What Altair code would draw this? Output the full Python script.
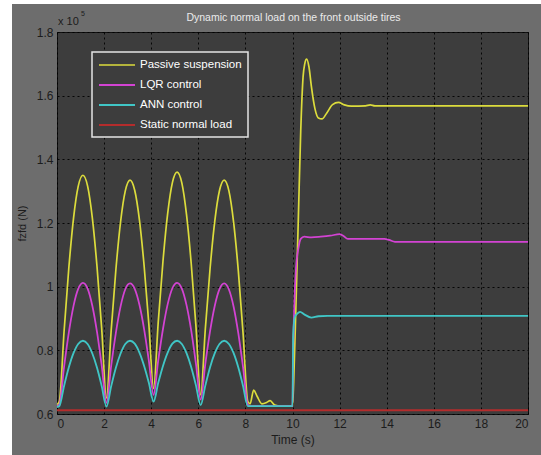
import altair as alt
import pandas as pd

# ---------------- data (values in units of 1e5 N) ----------------
t_arch = [0, 0.1, 0.3, 0.5, 0.7, 0.9, 1.1, 1.3, 1.5, 1.7, 1.9, 2.1,
          2.3, 2.5, 2.7, 2.9, 3.1, 3.3, 3.5, 3.7, 3.9, 4.1,
          4.3, 4.5, 4.7, 4.9, 5.1, 5.3, 5.5, 5.7, 5.9, 6.1,
          6.3, 6.5, 6.7, 6.9, 7.1, 7.3, 7.5, 7.7, 7.9, 8.1]

passive_arch = [0.63, 0.64, 0.859, 1.057, 1.214, 1.315, 1.35, 1.316, 1.216, 1.062, 0.866, 0.65,
                0.862, 1.053, 1.204, 1.301, 1.335, 1.303, 1.21, 1.065, 0.882, 0.68,
                0.89, 1.08, 1.23, 1.327, 1.36, 1.326, 1.226, 1.072, 0.876, 0.66,
                0.869, 1.057, 1.206, 1.302, 1.335, 1.301, 1.202, 1.049, 0.855, 0.64]
lqr_arch = [0.625, 0.63, 0.748, 0.855, 0.939, 0.993, 1.012, 0.994, 0.94, 0.857, 0.751, 0.635,
            0.751, 0.855, 0.938, 0.992, 1.01, 0.993, 0.943, 0.866, 0.768, 0.66,
            0.769, 0.867, 0.945, 0.995, 1.012, 0.994, 0.942, 0.862, 0.758, 0.645,
            0.758, 0.86, 0.94, 0.992, 1.01, 0.991, 0.937, 0.853, 0.747, 0.63]
ann_arch = [0.622, 0.625, 0.688, 0.746, 0.791, 0.82, 0.83, 0.82, 0.79, 0.745, 0.687, 0.623,
            0.687, 0.745, 0.79, 0.82, 0.83, 0.821, 0.793, 0.751, 0.698, 0.639,
            0.698, 0.751, 0.793, 0.821, 0.83, 0.82, 0.791, 0.747, 0.69, 0.628,
            0.69, 0.747, 0.791, 0.82, 0.83, 0.82, 0.791, 0.746, 0.688, 0.625]

passive_tail_t = [8.2, 8.35, 8.5, 8.7, 8.9, 9.05, 9.25, 9.5, 10.0, 10.05, 10.15, 10.25, 10.35,
                  10.45, 10.52, 10.6, 10.7, 10.8, 10.95, 11.1, 11.25, 11.45, 11.7, 11.95,
                  12.2, 12.5, 13.1, 13.3, 13.5, 20.0]
passive_tail_v = [0.632, 0.675, 0.655, 0.632, 0.636, 0.642, 0.628, 0.625, 0.625, 0.70, 0.95, 1.22, 1.49,
                  1.66, 1.70, 1.715, 1.69, 1.63, 1.56, 1.53, 1.527, 1.545, 1.572, 1.579,
                  1.571, 1.567, 1.568, 1.571, 1.568, 1.568]

lqr_tail_t = [8.2, 10.0, 10.03, 10.08, 10.15, 10.25, 10.35, 10.5, 10.8, 11.2, 11.6, 12.0,
              12.15, 12.35, 13.9, 14.1, 14.35, 20.0]
lqr_tail_v = [0.625, 0.625, 0.80, 0.95, 1.06, 1.12, 1.15, 1.157, 1.155, 1.157, 1.16, 1.165,
              1.16, 1.15, 1.15, 1.147, 1.141, 1.141]

ann_tail_t = [8.2, 10.0, 10.03, 10.1, 10.2, 10.32, 10.5, 10.8, 11.1, 11.5, 20.0]
ann_tail_v = [0.625, 0.625, 0.85, 0.905, 0.915, 0.921, 0.913, 0.903, 0.907, 0.908, 0.908]

static_t = [0, 20]
static_v = [0.612, 0.612]

series_names = ["Passive suspension", "LQR control", "ANN control", "Static normal load"]
series_colors = ["#dcdc3c", "#d343d3", "#40c6c6", "#b42c2c"]
series_widths = [1.7, 1.9, 1.9, 3.2]

x_ticks = [0, 2, 4, 6, 8, 10, 12, 14, 16, 18, 20]
y_ticks = [0.6, 0.8, 1.0, 1.2, 1.4, 1.6, 1.8]

title_text = "Dynamic normal load on the front outside tires"

# ---------------- table ----------------
rows = []
def add(name, ts, vs, order):
    for t, v in zip(ts, vs):
        rows.append({"t": t, "v": v, "series": name, "draw": order})

add("Static normal load", static_t, static_v, 0)
add("Passive suspension", t_arch + passive_tail_t, passive_arch + passive_tail_v, 1)
add("LQR control", t_arch + lqr_tail_t, lqr_arch + lqr_tail_v, 2)
add("ANN control", t_arch + ann_tail_t, ann_arch + ann_tail_v, 3)
df = pd.DataFrame(rows)

FONT = "Liberation Sans"
DARK = "#1c1c1c"
W, H = 471, 382

lines = alt.Chart(df).mark_line(interpolate="monotone", clip=True).encode(
    x=alt.X("t:Q", scale=alt.Scale(domain=[0, 20], nice=False, zero=False),
            axis=alt.Axis(values=x_ticks, title="Time (s)", grid=True, gridColor="#000000",
                          gridDash=[2, 3], gridOpacity=0.9, gridWidth=1, tickSize=0, domain=False,
                          labelPadding=4, labelFontSize=12, labelColor=DARK, labelFont=FONT,
                          titleFont=FONT, titleFontSize=12, titleFontWeight="normal",
                          titleColor=DARK, titlePadding=5)),
    y=alt.Y("v:Q", scale=alt.Scale(domain=[0.6, 1.8], nice=False, zero=False),
            axis=alt.Axis(values=y_ticks, format="~g", title="fzfd (N)", grid=True,
                          gridColor="#000000", gridDash=[2, 3], gridOpacity=0.9, gridWidth=1,
                          tickSize=0, domain=False, labelPadding=4, labelFontSize=12,
                          labelColor=DARK, labelFont=FONT, titleFont=FONT, titleFontSize=11,
                          titleFontWeight="normal", titleColor=DARK, titlePadding=9)),
    color=alt.Color("series:N", scale=alt.Scale(domain=series_names, range=series_colors),
                    legend=alt.Legend(title=None, orient="none", legendX=35, legendY=20,
                                      fillColor="#3d3d3d", strokeColor="#e4e4e4",
                                      padding=6, symbolType="M-1,0H5",
                                      symbolSize=144, symbolStrokeWidth=2, labelOffset=28,
                                      labelColor="#ffffff", labelFontSize=11.5, labelFont=FONT,
                                      rowPadding=7)),
    strokeWidth=alt.StrokeWidth("series:N",
                                scale=alt.Scale(domain=series_names, range=series_widths),
                                legend=None),
    order=alt.Order("draw:Q"),
)

anno = pd.DataFrame({"a": [0]})
title_mark = alt.Chart(anno).mark_text(align="center", baseline="alphabetic", font=FONT,
                                       fontSize=10.5, color="#ebebeb", text=title_text).encode(
    x=alt.value(W / 2 + 1), y=alt.value(-11))
mult = alt.Chart(anno).mark_text(align="left", baseline="alphabetic", font=FONT,
                                 fontSize=11, color=DARK, text="x 10").encode(
    x=alt.value(1), y=alt.value(-7))
sup = alt.Chart(anno).mark_text(align="left", baseline="alphabetic", font=FONT,
                                fontSize=7, color=DARK, text="5").encode(
    x=alt.value(24), y=alt.value(-16))
white_left = alt.Chart(anno).mark_rect(color="#ffffff", clip=False).encode(
    x=alt.value(-57), x2=alt.value(-45), y=alt.value(-32), y2=alt.value(H + 41))
white_top = alt.Chart(anno).mark_rect(color="#ffffff", clip=False).encode(
    x=alt.value(-57), x2=alt.value(W + 13), y=alt.value(-32), y2=alt.value(-28))

chart = alt.layer(lines, title_mark, mult, sup, white_left, white_top).properties(
    width=W, height=H,
    autosize=alt.AutoSizeParams(type="none"),
    padding={"left": 57, "top": 32, "right": 13, "bottom": 41},
    background="#6d6d6d",
).configure_view(fill="#3d3d3d", stroke="#111111", strokeWidth=1
).configure_legend(strokeWidth=1.5)

chart.save("out.html", embed_options={"renderer": "svg", "actions": False})
